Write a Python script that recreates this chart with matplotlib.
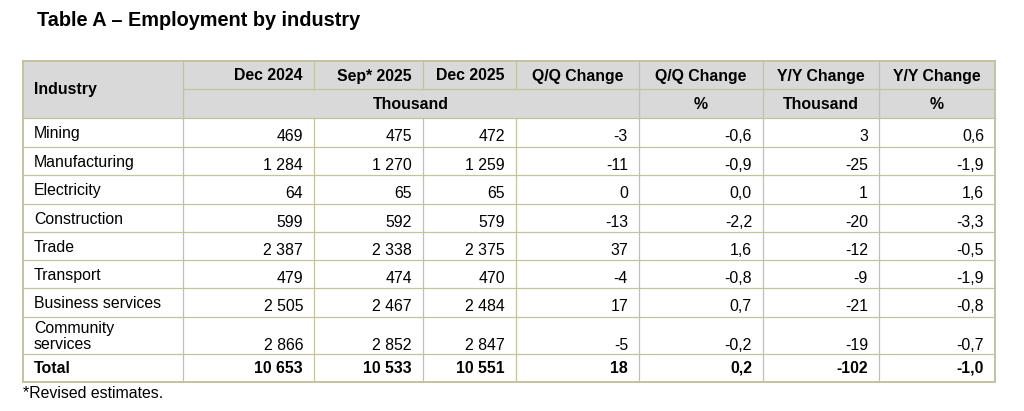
import matplotlib.pyplot as plt
from matplotlib.patches import Rectangle

plt.rcParams['font.family'] = ['Liberation Sans', 'DejaVu Sans']

# table data
industries = ['Mining', 'Manufacturing', 'Electricity', 'Construction', 'Trade',
              'Transport', 'Business services', 'Community\nservices']
dec2024 = [469, 1284, 64, 599, 2387, 479, 2505, 2866]
sep2025 = [475, 1270, 65, 592, 2338, 474, 2467, 2852]
dec2025 = [472, 1259, 65, 579, 2375, 470, 2484, 2847]
qq_change = [-3, -11, 0, -13, 37, -4, 17, -5]
qq_pct = [-0.6, -0.9, 0.0, -2.2, 1.6, -0.8, 0.7, -0.2]
yy_change = [3, -25, 1, -20, -12, -9, -21, -19]
yy_pct = [0.6, -1.9, 1.6, -3.3, -0.5, -1.9, -0.8, -0.7]

total = [10653, 10533, 10551, 18, 0.2, -102, -1.0]

col_heads = ['Dec 2024', 'Sep* 2025', 'Dec 2025', 'Q/Q Change', 'Q/Q Change',
             'Y/Y Change', 'Y/Y Change']
unit_heads = ['Thousand', '%', 'Thousand', '%']

title = 'Table A \u2013 Employment by industry'
footnote = '*Revised estimates.'


def fmt_int(v):
    return '{:,}'.format(v).replace(',', ' ')


def fmt_pct(v):
    return '{:.1f}'.format(v).replace('.', ',')


# layout in pixels
xs = [23, 183, 314, 423, 516, 639, 763, 879, 995]
h_top, h_mid, h_bot = 61, 89, 118
row_lines = [118, 147, 175, 204, 232, 260, 288, 317, 354, 382]
line_col = '#c3c3a0'
head_bg = '#d9d9d9'
fs = 11.4
pad = 11

fig = plt.figure(figsize=(10.24, 4.11), dpi=100)
ax = fig.add_axes([0, 0, 1, 1])
ax.set_xlim(0, 1024)
ax.set_ylim(411, 0)
ax.axis('off')

ax.add_patch(Rectangle((xs[0], h_top), xs[-1] - xs[0], h_bot - h_top,
                       facecolor=head_bg, edgecolor='none', zorder=0))

# horizontal lines
ax.plot([xs[1], xs[-1]], [h_mid, h_mid], color=line_col, lw=0.9)
for y in row_lines[:-1]:
    ax.plot([xs[0], xs[-1]], [y, y], color=line_col, lw=0.9)

# vertical lines
for i, x in enumerate(xs[1:-1], start=1):
    ax.plot([x, x], [h_top, h_mid], color=line_col, lw=0.9)
    ax.plot([x, x], [h_bot, row_lines[-1]], color=line_col, lw=0.9)
    if i in (1, 5, 6, 7):
        ax.plot([x, x], [h_mid, h_bot], color=line_col, lw=0.9)

ax.add_patch(Rectangle((xs[0], h_top), xs[-1] - xs[0], row_lines[-1] - h_top,
                       facecolor='none', edgecolor=line_col, lw=1.4, zorder=3))

# title and footnote
ax.text(37, 21, title, fontsize=14.3, fontweight='bold', ha='left', va='center')
ax.text(xs[0], 393, footnote, fontsize=fs, ha='left', va='center')

# header
ax.text(xs[0] + pad, (h_top + h_bot) / 2, 'Industry', fontsize=fs,
        fontweight='bold', ha='left', va='center')
hy1 = (h_top + h_mid) / 2 + 1
for j, head in enumerate(col_heads):
    if j < 3:
        ax.text(xs[j + 2] - pad, hy1, head, fontsize=fs, fontweight='bold',
                ha='right', va='center')
    else:
        ax.text((xs[j + 1] + xs[j + 2]) / 2, hy1, head, fontsize=fs,
                fontweight='bold', ha='center', va='center')
hy2 = (h_mid + h_bot) / 2 + 1
unit_spans = [(xs[1], xs[5]), (xs[5], xs[6]), (xs[6], xs[7]), (xs[7], xs[8])]
for u, (a, b) in zip(unit_heads, unit_spans):
    ax.text((a + b) / 2, hy2, u, fontsize=fs, fontweight='bold',
            ha='center', va='center')

# body rows
columns = [dec2024, sep2025, dec2025, qq_change, qq_pct, yy_change, yy_pct]
for i, name in enumerate(industries):
    top, bot = row_lines[i], row_lines[i + 1]
    mid = (top + bot) / 2
    ax.text(xs[0] + pad, mid + 1, name, fontsize=fs, ha='left', va='center',
            linespacing=1.05)
    num_y = bot - 9 if '\n' in name else mid + 4
    for j, col in enumerate(columns):
        v = col[i]
        s = fmt_pct(v) if j in (4, 6) else fmt_int(v)
        ax.text(xs[j + 2] - pad, num_y, s, fontsize=fs, ha='right', va='center')

# total row
top, bot = row_lines[-2], row_lines[-1]
mid = (top + bot) / 2
ax.text(xs[0] + pad, mid, 'Total', fontsize=fs, fontweight='bold',
        ha='left', va='center')
for j, v in enumerate(total):
    s = fmt_pct(v) if j in (4, 6) else fmt_int(v)
    ax.text(xs[j + 2] - pad, mid, s, fontsize=fs, fontweight='bold',
            ha='right', va='center')

fig.savefig('out.png', dpi=100, facecolor='white')
